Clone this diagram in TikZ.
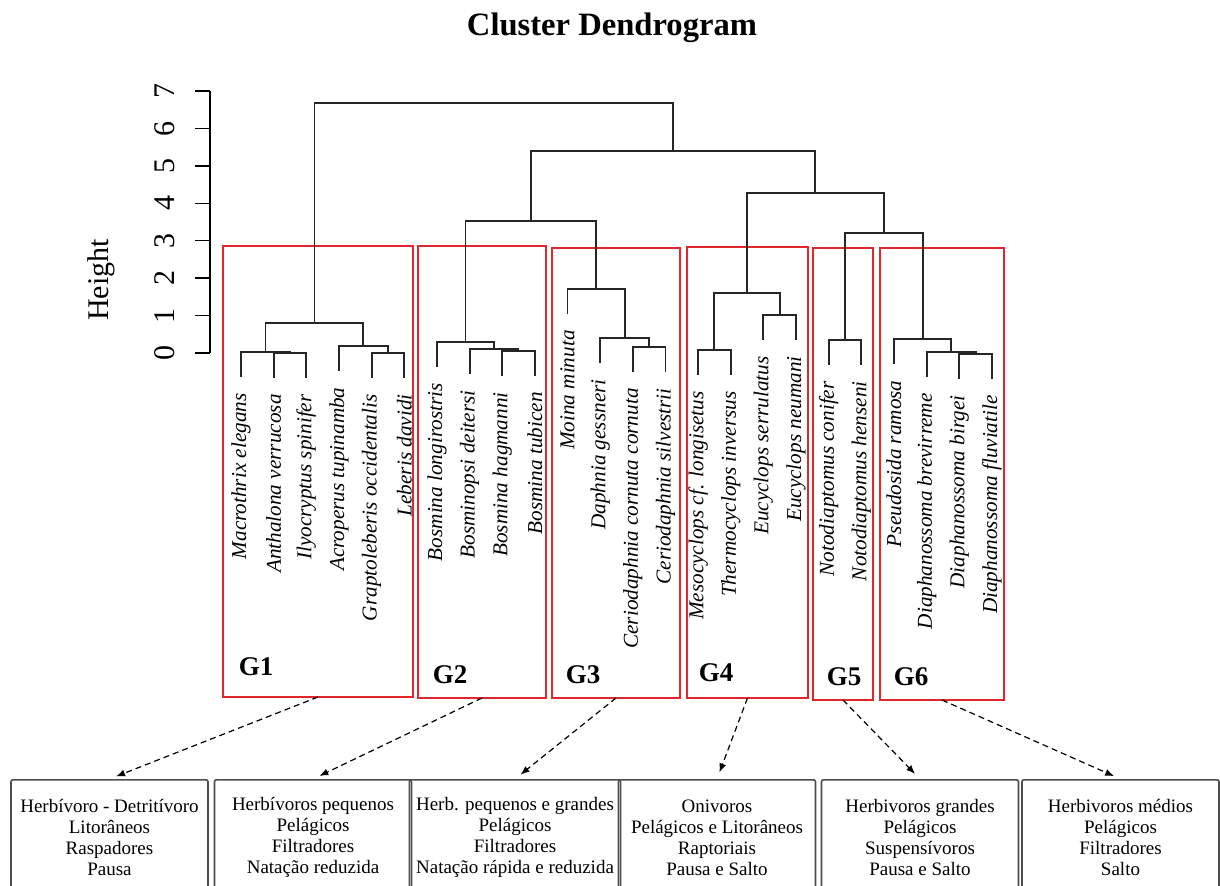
\documentclass[tikz,border=0pt]{standalone}
\usepackage{fontspec}
\setmainfont{Liberation Serif}
\usetikzlibrary{arrows.meta}
\definecolor{grpred}{RGB}{226,38,46}

\begin{document}
\begin{tikzpicture}[x=0.5pt, y=-0.5pt,
    tree/.style={draw=black!85, line width=0.95pt},
    leaf/.style={rotate=90, anchor=east, inner sep=0pt, font=\fontsize{10.6}{12}\selectfont\itshape},
    tick/.style={rotate=90, inner sep=0pt, font=\fontsize{15}{17}\selectfont},
    grp/.style={draw=grpred, line width=1.1pt, inner sep=0pt, outer sep=0pt},
    glab/.style={font=\fontsize{13.5}{15}\selectfont\bfseries},
    trait/.style={draw=black!70, line width=0.8pt, rounded corners=1pt, minimum width=98.5pt, minimum height=58pt, anchor=north, align=center, font=\fontsize{9.5}{10.5}\selectfont},
    link/.style={densely dashed, line width=0.6pt, -{Latex[length=4.5pt,width=3.5pt]}, shorten >=3.5pt}
]
\useasboundingbox (0,0) rectangle (1220,886);

\node[font=\fontsize{16.3}{18}\selectfont\bfseries] (title) at (612,28) {Cluster Dendrogram};

% axis
\node[tick] (ylab) at (101,280) {Height};
\draw[black, line width=0.7pt] (210,91) -- (210,353);
\foreach \h in {0,...,7} {
  \draw[black, line width=0.7pt] (195,{353-37.4*\h}) -- (210,{353-37.4*\h});
  \node[tick] (k\h) at (165,{353-37.4*\h}) {\h};
}

% red groups
\node[grp, minimum width=95pt, minimum height=225.5pt] (g1) at (318,471.5) {};
\node[grp, minimum width=64pt, minimum height=226pt] (g2) at (482,472) {};
\node[grp, minimum width=64pt, minimum height=225pt] (g3) at (616,473) {};
\node[grp, minimum width=60.5pt, minimum height=225.5pt] (g4) at (747.5,472.5) {};
\node[grp, minimum width=30pt, minimum height=226pt] (g5) at (843,474) {};
\node[grp, minimum width=62pt, minimum height=226pt] (g6) at (942,474) {};
\node[glab] (n1) at (256,667) {G1};
\node[glab] (n2) at (450,675) {G2};
\node[glab] (n3) at (583,675) {G3};
\node[glab] (n4) at (716,673) {G4};
\node[glab] (n5) at (844,677) {G5};
\node[glab] (n6) at (911,677) {G6};

% leaves
\foreach \i/\yy/\name in {0/377/Macrothrix elegans, 1/378/Anthalona verrucosa,
    2/378/Ilyocryptus spinifer, 3/371/Acroperus tupinamba,
    4/378/Graptoleberis occidentalis, 5/378/Leberis davidi,
    6/367/Bosmina longirostris, 7/374/Bosminopsi deitersi,
    8/376/Bosmina hagmanni, 9/376/Bosmina tubicen,
    10/314/Moina minuta, 11/363/Daphnia gessneri,
    12/372/Ceriodaphnia cornuta cornuta, 13/372/Ceriodaphnia silvestrii,
    14/375/Mesocyclops cf. longisetus, 15/375/Thermocyclops inversus,
    16/340/Eucyclops serrulatus, 17/340/Eucyclops neumani,
    18/365/Notodiaptomus conifer, 19/365/Notodiaptomus henseni,
    20/364/Pseudosida ramosa, 21/377/Diaphanossoma brevirreme,
    22/379/Diaphanossoma birgei, 23/379/Diaphanossoma fluviatile} {
  \coordinate (l\i) at ({241+32.65*\i},\yy);
  \node[leaf] (t\i) at ([yshift=-8pt]l\i) {\name};
}

% merges
\coordinate (m1) at (290,352.7);
\coordinate (m2) at (265.5,351.7);
\coordinate (m3) at (387.9,353.3);
\coordinate (m4) at (363.4,346);
\coordinate (m5) at (314.5,323);
\coordinate (m6) at (518.5,350.7);
\coordinate (m7) at (494,349.3);
\coordinate (m8) at (465.5,342);
\coordinate (m9) at (649.1,347);
\coordinate (m10) at (624.6,338);
\coordinate (m11) at (596.1,289);
\coordinate (m12) at (530.8,221);
\coordinate (m13) at (714.4,350);
\coordinate (m14) at (779.7,315);
\coordinate (m15) at (747.1,293);
\coordinate (m16) at (845,340);
\coordinate (m17) at (975.6,354);
\coordinate (m18) at (951.1,352);
\coordinate (m19) at (922.6,339);
\coordinate (m20) at (883.8,233);
\coordinate (m21) at (815.4,193);
\coordinate (m22) at (673.1,151);
\coordinate (m23) at (493.8,103);

\draw[tree] (l1) |- (m1) -| (l2);
\draw[tree] (l0) |- (m2) -| (m1);
\draw[tree] (l4) |- (m3) -| (l5);
\draw[tree] (l3) |- (m4) -| (m3);
\draw[tree] (m2) |- (m5) -| (m4);
\draw[tree] (l8) |- (m6) -| (l9);
\draw[tree] (l7) |- (m7) -| (m6);
\draw[tree] (l6) |- (m8) -| (m7);
\draw[tree] (l12) |- (m9) -| (l13);
\draw[tree] (l11) |- (m10) -| (m9);
\draw[tree] (l10) |- (m11) -| (m10);
\draw[tree] (m8) |- (m12) -| (m11);
\draw[tree] (l14) |- (m13) -| (l15);
\draw[tree] (l16) |- (m14) -| (l17);
\draw[tree] (m13) |- (m15) -| (m14);
\draw[tree] (l18) |- (m16) -| (l19);
\draw[tree] (l22) |- (m17) -| (l23);
\draw[tree] (l21) |- (m18) -| (m17);
\draw[tree] (l20) |- (m19) -| (m18);
\draw[tree] (m16) |- (m20) -| (m19);
\draw[tree] (m15) |- (m21) -| (m20);
\draw[tree] (m12) |- (m22) -| (m21);
\draw[tree] (m5) |- (m23) -| (m22);

% traits
\node[trait] (b1) at (109.5,779) {Herbívoro - Detritívoro\\Litorâneos\\Raspadores\\Pausa};
\node[trait] (b2) at (313,779) {Herbívoros pequenos\\Pelágicos\\Filtradores\\Natação reduzida};
\node[trait] (b3) at (515,779) {Herb. pequenos e grandes\\Pelágicos\\Filtradores\\Natação rápida e reduzida};
\node[trait] (b4) at (717,779) {Onivoros\\Pelágicos e Litorâneos\\Raptoriais\\Pausa e Salto};
\node[trait] (b5) at (920,779) {Herbivoros grandes\\Pelágicos\\Suspensívoros\\Pausa e Salto};
\node[trait] (b6) at (1120.5,779) {Herbivoros médios\\Pelágicos\\Filtradores\\Salto};

\foreach \k in {1,...,6} {
  \draw[link] (g\k.south) -- (b\k.north);
}
\end{tikzpicture}
\end{document}
